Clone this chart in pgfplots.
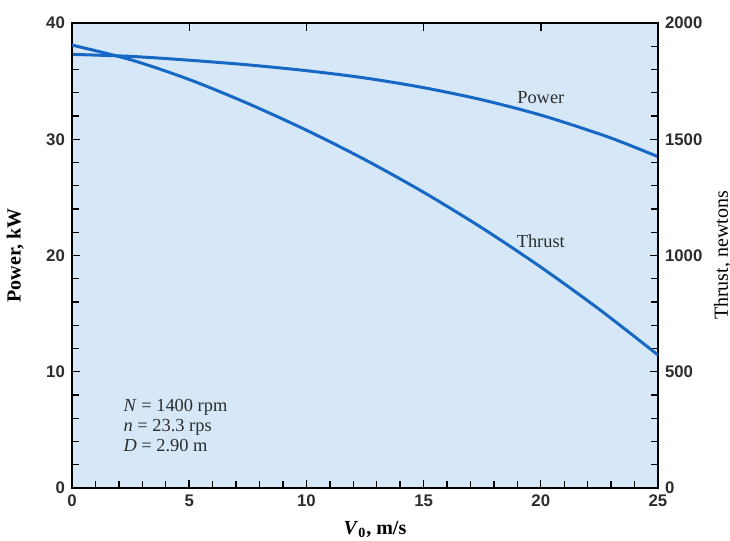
\documentclass[border=0pt]{standalone}
\usepackage{fontspec}
\setmainfont{Liberation Serif}
\setsansfont{Liberation Sans}
\usepackage{pgfplots}
\usepackage{pgfplotstable}
\pgfplotsset{compat=1.18}
\definecolor{bgblue}{RGB}{214,232,248}
\definecolor{curve}{RGB}{22,104,196}
\definecolor{txt}{RGB}{45,45,45}

\pgfplotstableread{
x P
0 37.3
2.5 37.13
5 36.8
7.5 36.4
10 35.9
12.5 35.27
15 34.44
17.5 33.39
20 32.08
22.5 30.46
23.75 29.52
25 28.5
}\powertab

\pgfplotstableread{
x T
0 1905
2.5 1842
5 1757
7.5 1654
10 1539
12.5 1412
15 1272
17.5 1118
20 950
22.5 768
25 572
}\thrusttab

\begin{document}
\begin{tikzpicture}
\pgfplotsset{
  common/.style={
    scale only axis, width=293pt, height=232.5pt,
    xmin=0, xmax=25,
    tick align=inside,
    major tick length=4pt, minor tick length=3.5pt,
    axis line style={line width=1pt},
    every tick/.style={black, line width=0.7pt},
    /pgf/number format/assume math mode=true,
    /pgf/number format/1000 sep={},
    ticklabel style={font=\sffamily\bfseries\fontsize{8.4}{10}\selectfont, text=txt},
    label style={font=\fontsize{9}{11}\selectfont, text=txt},
  }
}
\begin{axis}[common,
  ymin=0, ymax=40,
  xtick={0,5,...,25}, ytick={0,10,...,40},
  minor x tick num=4, minor y tick num=4,
  xtick pos=left, ytick pos=left,
  axis background/.style={fill=bgblue},
  xlabel={\bfseries\textit{V}$_{\mathbf{0}}$, m/s},
  ylabel={\bfseries Power, kW},
  every axis x label/.style={at={(axis description cs:0.517,-0.09)}, anchor=center},
  every axis y label/.style={at={(axis description cs:-0.097,0.5)}, rotate=90, anchor=center},
]
\addplot[curve, line width=1.5pt, smooth] table[x=x, y=P] {\powertab};
\node[font=\fontsize{9.2}{11}\selectfont, text=txt] at (axis cs:20,33.6) {Power};
\node[font=\fontsize{9.2}{11}\selectfont, text=txt] at (axis cs:20,21.2) {Thrust};
\node[anchor=west, align=left, font=\fontsize{9.2}{10}\selectfont, text=txt] at (axis cs:1.9,5.4)
  {\textit{N} = 1400 rpm\\ \textit{n} = 23.3 rps\\ \textit{D} = 2.90 m};
\end{axis}
\begin{axis}[common,
  ymin=0, ymax=2000,
  xtick={5,10,15,20}, xticklabels={},
  ytick={0,500,...,2000}, minor y tick num=4,
  xtick pos=right, ytick pos=right, yticklabel pos=right,
  ylabel={Thrust, newtons},
  every axis y label/.style={at={(axis description cs:1.11,0.5)}, rotate=90, anchor=center},
]
\addplot[curve, line width=1.5pt, smooth] table[x=x, y=T] {\thrusttab};
\end{axis}
\pgfresetboundingbox
\path[use as bounding box] (-36pt,-26.5pt) rectangle (329pt,244pt);
\end{tikzpicture}
\end{document}
